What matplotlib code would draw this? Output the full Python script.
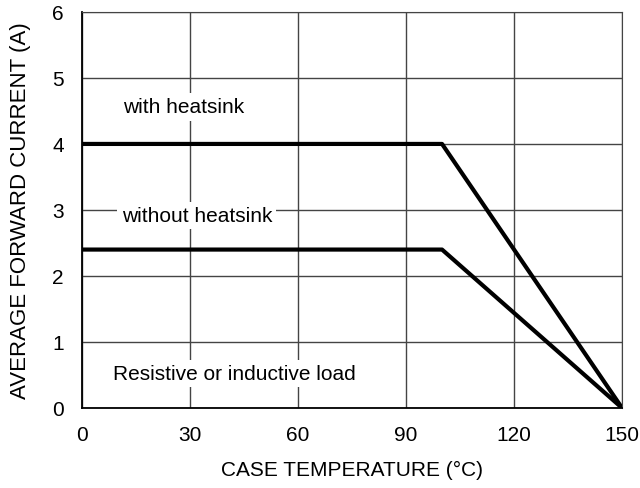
import matplotlib
matplotlib.use("Agg")
import matplotlib.pyplot as plt

plt.rcParams['font.family'] = ['Liberation Sans', 'DejaVu Sans']

temp_with = [0, 100, 150]
curr_with = [4.0, 4.0, 0.0]
temp_without = [0, 100, 150]
curr_without = [2.4, 2.4, 0.0]
xticks = [0, 30, 60, 90, 120, 150]
yticks = [0, 1, 2, 3, 4, 5, 6]

fig = plt.figure(figsize=(6.4, 4.89), dpi=100)
ax = fig.add_axes([0.128, 0.1636, 0.844, 0.81])
ax.set_xlim(0, 150)
ax.set_ylim(0, 6)
ax.set_xticks(xticks)
ax.set_yticks(yticks)
ax.grid(True, color='#444444', linewidth=1.0)
ax.set_axisbelow(True)
for s in ax.spines.values():
    s.set_color('#444444')
ax.spines['left'].set_color('black')
ax.spines['bottom'].set_color('black')
ax.spines['left'].set_linewidth(1.3)
ax.spines['bottom'].set_linewidth(1.3)
ax.tick_params(axis='x', length=0, labelsize=15, pad=12)
ax.tick_params(axis='y', length=0, labelsize=15, pad=13)

ax.plot(temp_with, curr_with, color='black', linewidth=3, solid_capstyle='butt', zorder=3)
ax.plot(temp_without, curr_without, color='black', linewidth=3, solid_capstyle='butt', zorder=3)

bbox = dict(facecolor='white', edgecolor='none', pad=3)
ax.text(11.5, 4.56, 'with heatsink', fontsize=15, va='center', ha='left', bbox=bbox, zorder=2)
ax.text(11.0, 2.92, 'without heatsink', fontsize=15, va='center', ha='left', bbox=bbox, zorder=2)
ax.text(8.6, 0.52, 'Resistive or inductive load', fontsize=15, va='center', ha='left', bbox=bbox, zorder=2)

ax.set_xlabel('CASE TEMPERATURE (°C)', fontsize=15, labelpad=12)
ax.set_ylabel('AVERAGE FORWARD CURRENT (A)', fontsize=16, labelpad=15)

fig.savefig('out.png', dpi=100)
